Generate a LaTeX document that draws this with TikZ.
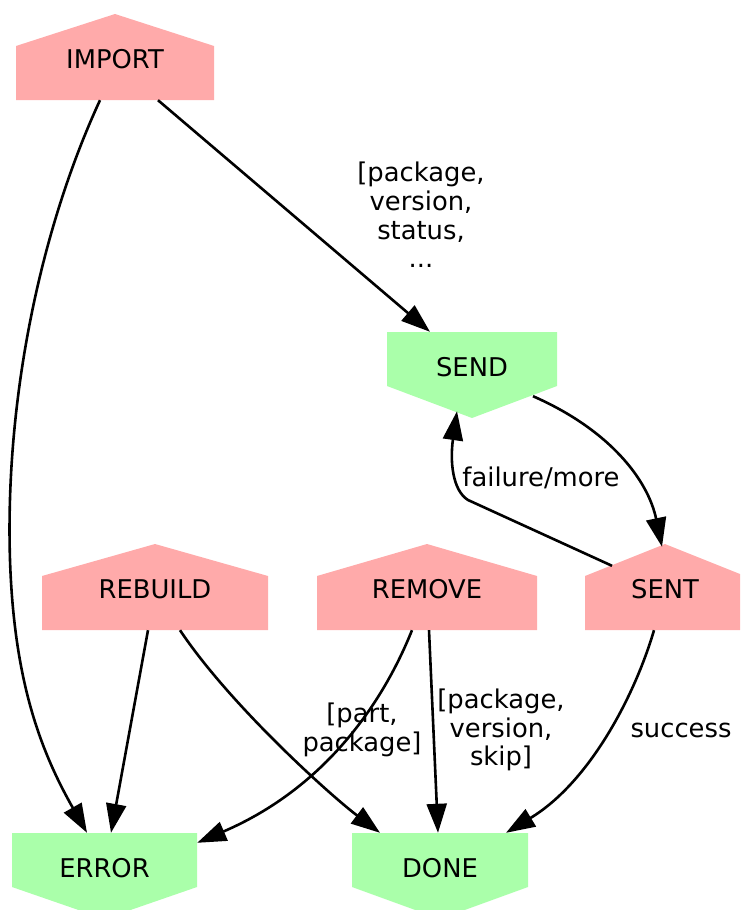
\documentclass[tikz,border=0pt]{standalone}
\usepackage{fontspec}
\setmainfont{DejaVu Sans}
\usetikzlibrary{arrows.meta}
\definecolor{housepink}{HTML}{FFAAAA}
\definecolor{housegreen}{HTML}{AAFFAA}
\tikzset{
	house/.style={minimum height=86pt, inner sep=0pt, text height=23pt, text depth=0.7pt,
		path picture={\fill[housepink] (path picture bounding box.south west)
			-- ([yshift=-32pt]path picture bounding box.north west)
			-- (path picture bounding box.north)
			-- ([yshift=-32pt]path picture bounding box.north east)
			-- (path picture bounding box.south east) -- cycle;}},
	invhouse/.style={minimum height=86pt, inner sep=0pt, text height=12pt, text depth=9pt,
		path picture={\fill[housegreen] (path picture bounding box.north west)
			-- ([yshift=32pt]path picture bounding box.south west)
			-- (path picture bounding box.south)
			-- ([yshift=32pt]path picture bounding box.south east)
			-- (path picture bounding box.north east) -- cycle;}},
	edge/.style={line width=2.6pt, -{Triangle[length=29pt,width=20pt]}},
	lbl/.style={align=center, inner sep=0pt}
}

\begin{document}
\begin{tikzpicture}[x=1pt, y=-1pt, font=\fontsize{25.8pt}{28.7pt}\selectfont]
			%%%%% START %%%%%
			\clip (0, 0) rectangle (740, 910);
			
			\node[house, minimum width=198pt] (import) at (115, 57) {IMPORT};
			\node[invhouse, minimum width=170pt] (send) at (472, 375) {SEND};
			\node[house, minimum width=226pt] (rebuild) at (155, 587) {REBUILD};
			\node[house, minimum width=220pt] (remove) at (427, 587) {REMOVE};
			\node[house, minimum width=160pt] (sent) at (665, 587) {SENT};
			\node[invhouse, minimum width=185pt] (error) at (104.5, 876) {ERROR};
			\node[invhouse, minimum width=176pt] (done) at (440, 876) {DONE};
			
			\draw[edge] ([xshift=-15pt]import.south) .. controls (40, 230) and (5, 400) .. (10, 560)
				.. controls (14, 680) and (40, 750) .. ([xshift=-17.5pt]error.north);
			\draw[edge] ([xshift=43pt]import.south) -- ([xshift=-42pt]send.north);
			\node[lbl] (lblimport) at (421, 215) {[package,\\version,\\status,\\...};
			
			\draw[edge] ([xshift=61pt, yshift=22pt]send.south) .. controls (610, 430) and (648, 480) .. ([xshift=-3pt, yshift=-3pt]sent.north);
			\draw[edge] ([xshift=-53pt, yshift=-22pt]sent.north) -- (468, 500)
				.. controls (452, 490) and (450, 460) .. ([xshift=-15pt, yshift=7pt]send.south);
			\node[lbl] (lblfailure) at (541, 478) {failure/more};
			
			\draw[edge] ([xshift=-11pt]sent.south) .. controls (635, 695) and (590, 782) .. ([xshift=66pt]done.north);
			\node[lbl] (lblsuccess) at (681, 730) {success};
			
			\draw[edge] ([xshift=-7pt]rebuild.south) -- ([xshift=6.5pt]error.north);
			\draw[edge] ([xshift=25pt]rebuild.south) .. controls (230, 705) and (330, 795) .. ([xshift=-60pt]done.north);
			
			\draw[edge] ([xshift=-15pt]remove.south) .. controls (380, 710) and (320, 790) .. ([yshift=-10pt]error.north east);
			\node[lbl] (lblpart) at (362, 730) {[part,\\package]};
			\draw[edge] ([xshift=2pt]remove.south) -- ([xshift=-2pt]done.north);
			\node[lbl] (lblskip) at (501, 730) {[package,\\version,\\skip]};
			%%%%% END %%%%%
\end{tikzpicture}
\end{document}
